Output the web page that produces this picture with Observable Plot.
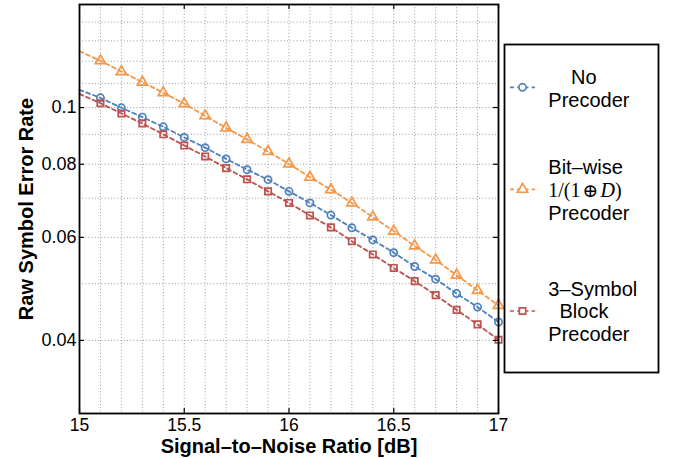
<!DOCTYPE html>
<html><head><meta charset="utf-8">
<script src="https://cdn.jsdelivr.net/npm/d3@7"></script>
<script src="https://cdn.jsdelivr.net/npm/@observablehq/plot@0.6"></script>
<style>
body{margin:0;background:#fff}
svg{font-family:"Liberation Sans",Arial,Helvetica,sans-serif}
</style>
</head><body><div id="chart"></div>
<script>
// ---- data ----
const snr = [15.0, 15.1, 15.2, 15.3, 15.4, 15.5, 15.6, 15.7, 15.8, 15.9, 16.0,
             16.1, 16.2, 16.3, 16.4, 16.5, 16.6, 16.7, 16.8, 16.9, 17.0];
const noPrecoder = [0.1072, 0.1039, 0.0999, 0.0963, 0.0927, 0.0889, 0.0854, 0.0817, 0.0783, 0.0753, 0.0719,
                    0.0687, 0.0655, 0.0623, 0.0594, 0.0565, 0.0535, 0.0509, 0.0481, 0.0456, 0.0430];
const bitwisePrecoder = [0.1248, 0.1202, 0.1152, 0.1105, 0.1060, 0.1015, 0.0968, 0.0923, 0.0882, 0.0841, 0.0801,
                         0.0760, 0.0724, 0.0687, 0.0650, 0.0615, 0.0580, 0.0549, 0.0517, 0.0487, 0.0459];
const blockPrecoder = [0.1055, 0.1017, 0.0977, 0.0939, 0.0900, 0.0861, 0.0825, 0.0788, 0.0754, 0.0719, 0.0687,
                       0.0654, 0.0624, 0.0591, 0.0561, 0.0532, 0.0505, 0.0478, 0.0451, 0.0426, 0.0401];
const seriesKeys = ["none", "bitwise", "block"];
const seriesValues = [noPrecoder, bitwisePrecoder, blockPrecoder];
const seriesColors = ["#4f81bd", "#f79646", "#c0504d"];
const seriesSymbols = ["circle", "triangle", "square"];
const legendLines = [["No", "Precoder"], ["Bit\u2013wise", "MATH", "Precoder"], ["3\u2013Symbol", "Block", "Precoder"]];
const xTicks = [15, 15.5, 16, 16.5, 17];
const xTickLabels = ["15", "15.5", "16", "16.5", "17"];
const yTicks = [0.04, 0.06, 0.08, 0.1];
const yTickLabels = ["0.04", "0.06", "0.08", "0.1"];
const xGrid = [15.1, 15.2, 15.3, 15.4, 15.5, 15.6, 15.7, 15.8, 15.9, 16.0, 16.1, 16.2, 16.3, 16.4, 16.5, 16.6, 16.7, 16.8, 16.9];
const yGrid = [0.04, 0.05, 0.06, 0.07, 0.08, 0.09, 0.1, 0.11, 0.12, 0.13, 0.14];
const xLabel = "Signal\u2013to\u2013Noise Ratio [dB]";
const yLabel = "Raw Symbol Error Rate";

// ---- build table ----
const rows = [];
seriesKeys.forEach((k, s) => snr.forEach((x, i) => rows.push({x, y: seriesValues[s][i], s: k})));
const dotRows = rows.filter(d => d.x > 15.05);
const colorOf = new Map(seriesKeys.map((k, i) => [k, seriesColors[i]]));
const symOf = new Map(seriesKeys.map((k, i) => [k, seriesSymbols[i]]));
const rOf = {circle: 3.6, triangle: 3.8, square: 3.6};

const marks = [
  Plot.ruleX(xGrid, {x: d => d, stroke: "#9a9a9a", strokeDasharray: "1,2.2", strokeWidth: 1}),
  Plot.ruleY(yGrid, {y: d => d, stroke: "#9a9a9a", strokeDasharray: "1,2.2", strokeWidth: 1}),
  Plot.axisX(xTicks, {tickSize: 0, tickPadding: 5, fontSize: 17.5, label: null,
    tickFormat: d => xTickLabels[xTicks.indexOf(d)]}),
  Plot.axisY(yTicks, {tickSize: 0, tickPadding: 3, fontSize: 18, label: null,
    tickFormat: d => yTickLabels[yTicks.indexOf(d)]}),
];
seriesKeys.forEach(k => {
  const d = rows.filter(r => r.s === k);
  marks.push(Plot.line(d, {x: "x", y: "y", stroke: colorOf.get(k), strokeWidth: 1.8, strokeDasharray: "4,3.2"}));
});
seriesKeys.forEach(k => {
  const d = dotRows.filter(r => r.s === k);
  const sym = symOf.get(k);
  marks.push(Plot.dot(d, {x: "x", y: "y", symbol: sym, r: rOf[sym], stroke: colorOf.get(k), strokeWidth: 1.7, fill: "none"}));
});
marks.push(
  Plot.frame({stroke: "black", strokeWidth: 1.8}),
  Plot.ruleX(xTicks, {x: d => d, y1: 0.03, y2: 0.03, insetTop: -5, stroke: "black", strokeWidth: 1.2}),
  Plot.ruleX(xTicks, {x: d => d, y1: 0.15, y2: 0.15, insetBottom: -5, stroke: "black", strokeWidth: 1.2}),
  Plot.ruleY(yTicks, {y: d => d, x1: 15, x2: 15, insetRight: -5, stroke: "black", strokeWidth: 1.2}),
  Plot.ruleY(yTicks, {y: d => d, x1: 17, x2: 17, insetLeft: -5, stroke: "black", strokeWidth: 1.2}),
  Plot.text([xLabel], {text: d => d, frameAnchor: "bottom", dy: 33, textAnchor: "middle", fontSize: 20, fontWeight: "bold", fill: "black", lineAnchor: "middle"}),
  Plot.text([yLabel], {text: d => d, frameAnchor: "left", dx: -53, rotate: -90, textAnchor: "middle", fontSize: 20, fontWeight: "bold", fill: "black"})
);

const svg = Plot.plot({
  width: 677, height: 458,
  marginLeft: 79, marginRight: 179, marginTop: 4, marginBottom: 45,
  x: {domain: [15, 17]},
  y: {type: "log", domain: [0.03, 0.15]},
  style: {fontFamily: '"Liberation Sans", Arial, sans-serif', color: "black", background: "white"},
  marks
});

// ---- legend ----
const g = d3.select(svg).append("g").attr("text-anchor", "start");
g.append("rect").attr("x", 504.5).attr("y", 44.5).attr("width", 154).attr("height", 328)
  .attr("fill", "white").attr("stroke", "black").attr("stroke-width", 1.8);
const symY = [87.3, 189.3, 311];
const textY = [[76.7, 100], [166.7, 190, 212.7], [288.3, 311, 334]];
const textX = [[571, 548.3], [548.3, 548.3, 548.3], [548.3, 559.5, 548.3]];
const d3sym = {circle: d3.symbolCircle, triangle: d3.symbolTriangle, square: d3.symbolSquare};
seriesKeys.forEach((k, i) => {
  const sym = seriesSymbols[i];
  g.append("line").attr("x1", 510).attr("x2", 535).attr("y1", symY[i]).attr("y2", symY[i])
    .attr("stroke", seriesColors[i]).attr("stroke-width", 1.7).attr("stroke-dasharray", "4,3.2");
  g.append("path").attr("d", d3.symbol(d3sym[sym], Math.PI * rOf[sym] * rOf[sym])())
    .attr("transform", `translate(522.5,${symY[i]})`)
    .attr("fill", "white").attr("stroke", seriesColors[i]).attr("stroke-width", 1.7);
  legendLines[i].forEach((t, j) => {
    const tx = g.append("text").attr("x", textX[i][j]).attr("y", textY[i][j]).attr("dy", "0.36em")
      .attr("text-anchor", "start").attr("font-size", 20).attr("fill", "black");
    if (t === "MATH") {
      tx.attr("font-family", '"Liberation Serif", "DejaVu Serif", serif');
      tx.append("tspan").text("1/(1");
      tx.append("tspan").attr("dx", 2).attr("font-family", '"DejaVu Serif", serif').attr("font-size", 19).text("\u2295");
      tx.append("tspan").attr("dx", 2).attr("font-style", "italic").text("D");
      tx.append("tspan").text(")");
    } else {
      tx.text(t);
    }
  });
});

document.getElementById("chart").appendChild(svg);
</script>
</body></html>
